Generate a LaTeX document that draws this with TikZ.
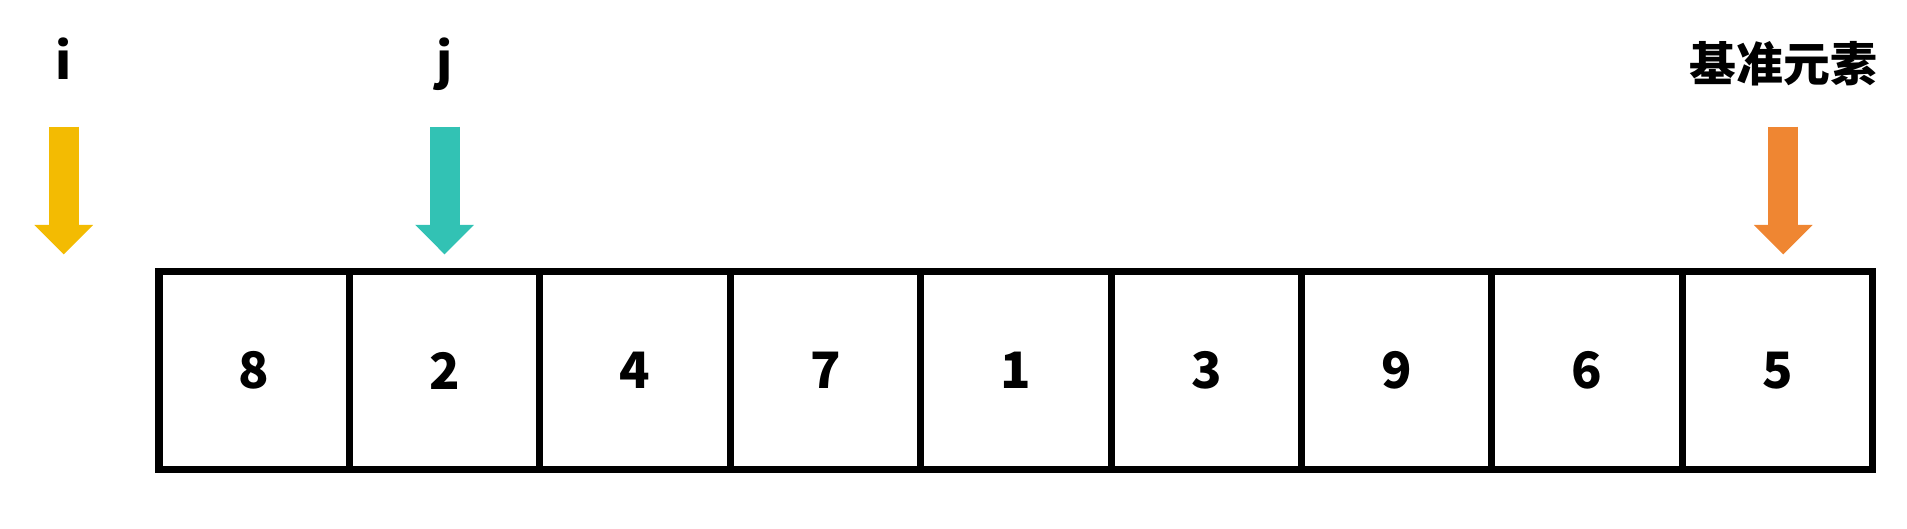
\documentclass[tikz,border=0pt]{standalone}
\usepackage{fontspec}
\setmainfont{Noto Sans CJK SC}
\usetikzlibrary{arrows.meta}
\definecolor{iyellow}{RGB}{243,187,2}
\definecolor{jteal}{RGB}{50,194,180}
\definecolor{porange}{RGB}{239,134,50}

\begin{document}
\begin{tikzpicture}[cell/.style={draw=black, line width=2.1pt, minimum width=2cm,
            minimum height=2.08cm, inner sep=0pt, font=\fontsize{15}{18}\selectfont\bfseries},
            ptr/.style={line width=3.15mm, -{Triangle[length=3.09mm, width=6.17mm, line width=0pt]}},
            lab/.style={anchor=base, font=\fontsize{15}{18}\selectfont\bfseries}]
            \useasboundingbox (-1.670,-0.6145) rectangle (18.36,4.932);

            \node[cell] (c1) at (1,1.04) {8};
            \node[cell] (c2) at (3,1.04) {2};
            \node[cell] (c3) at (5,1.04) {4};
            \node[cell] (c4) at (7,1.04) {7};
            \node[cell] (c5) at (9,1.04) {1};
            \node[cell] (c6) at (11,1.04) {3};
            \node[cell] (c7) at (13,1.04) {9};
            \node[cell] (c8) at (15,1.04) {6};
            \node[cell] (c9) at (17,1.04) {5};

            \node[lab] (i) at (-1,4.1) {i};
            \node[lab] (j) at (3,4.1) {j};
            \node[lab, font=\fontsize{14}{17}\selectfont\bfseries] (pivot) at (17.06,4.08) {基准元素};

            \coordinate (itop) at (-1,3.601);
            \coordinate (itip) at (-1,2.26);
            \coordinate (jtop) at (3,3.601);
            \coordinate (jtip) at (3,2.26);
            \coordinate (ptop) at (17.06,3.601);
            \coordinate (ptip) at (17.06,2.26);

            \draw[ptr, iyellow] (itop) to (itip);
            \draw[ptr, jteal] (jtop) to (jtip);
            \draw[ptr, porange] (ptop) to (ptip);
        \end{tikzpicture}
\end{document}
